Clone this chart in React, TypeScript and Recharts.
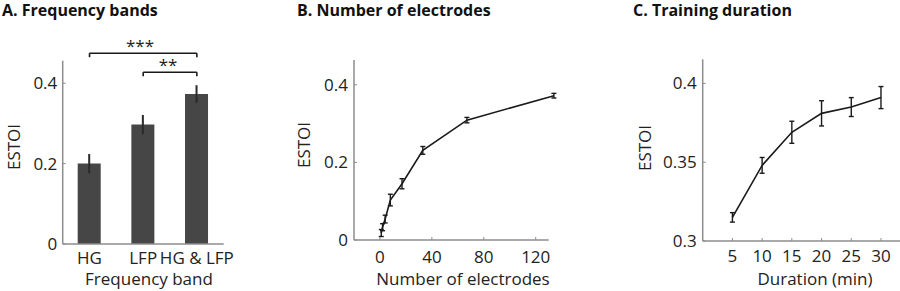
import React from 'react';
import { BarChart, Bar, LineChart, Line, XAxis, YAxis, ErrorBar, ReferenceLine } from 'recharts';

// A. frequency bands
const bands = ['HG', 'LFP', 'HG & LFP'];
const bandEstoi = [0.2, 0.297, 0.373];
const bandErr = [0.024, 0.024, 0.022];

// B. number of electrodes
const electrodes = [1, 2, 4, 8, 17, 33, 67, 134];
const electrodeEstoi = [0.018, 0.033, 0.054, 0.103, 0.145, 0.231, 0.309, 0.372];
const electrodeErr = [0.009, 0.009, 0.01, 0.015, 0.013, 0.01, 0.007, 0.006];

// C. training duration (min)
const durations = [5, 10, 15, 20, 25, 30];
const durationEstoi = [0.315, 0.348, 0.369, 0.381, 0.385, 0.391];
const durationErr = [0.003, 0.005, 0.007, 0.008, 0.006, 0.007];

const ticksA = [0, 0.2, 0.4];
const ticksB = [0, 0.2, 0.4];
const ticksBx = [0, 40, 80, 120];
const ticksC = [0.3, 0.35, 0.4];
const ticksCx = [5, 10, 15, 20, 25, 30];

// significance brackets (y in ESTOI units)
const sigOuter = 0.4747;
const sigInner = 0.4274;
const sigDrop = 0.01;

const FONT = '"Open Sans", sans-serif';
const AXIS = '#8c8c8c';
const INK = '#1a1a1a';
const tickStyle = { fill: '#222', fontSize: 17, fontFamily: FONT };

const dataA = bands.map((b, i) => ({ band: b, estoi: bandEstoi[i], err: bandErr[i] }));
const dataB = electrodes.map((n, i) => ({ n, estoi: electrodeEstoi[i], err: electrodeErr[i] }));
const dataC = durations.map((d, i) => ({ d, estoi: durationEstoi[i], err: durationErr[i] }));

function Labels() {
  const t = { fontFamily: FONT, fontSize: 17, fill: '#222' };
  const title = { fontFamily: FONT, fontSize: 16, fontWeight: 700, fill: '#111' };
  const ylab = (x: number, y: number) => (
    <text transform={`translate(${x},${y}) rotate(-90)`} textAnchor="middle" dominantBaseline="central" style={t}>
      ESTOI
    </text>
  );
  return (
    <svg width={900} height={291} style={{ position: 'absolute', left: 0, top: 0, pointerEvents: 'none' }}>
      <text x={2} y={16} style={title}>A. Frequency bands</text>
      <text x={297} y={16} style={title}>B. Number of electrodes</text>
      <text x={633} y={16} style={title}>C. Training duration</text>
      <text x={149} y={285} textAnchor="middle" style={t}>Frequency band</text>
      <text x={463} y={285} textAnchor="middle" style={t}>Number of electrodes</text>
      <text x={815} y={285} textAnchor="middle" style={t}>Duration (min)</text>
      {ylab(13, 147)}
      {ylab(303, 145)}
      {ylab(644, 148)}
      <text x={140} y={52} textAnchor="middle" style={t}>***</text>
      <text x={168} y={71} textAnchor="middle" style={t}>**</text>
    </svg>
  );
}

export default function App() {
  return (
    <div style={{ position: 'absolute', left: 0, top: 0, width: 900, height: 291, overflow: 'hidden', background: '#fff' }}>
      <div style={{ position: 'absolute', left: 0, top: 0 }}>
        <BarChart width={240} height={291} data={dataA} margin={{ top: 60.7, right: 16.3, bottom: 46, left: 61.7 }}>
          <XAxis dataKey="band" height={1} interval={0} tickLine={false} tickSize={0} tickMargin={8}
            axisLine={{ stroke: AXIS, strokeWidth: 1.5 }} tick={tickStyle} />
          <YAxis width={1} domain={[0, 0.456]} ticks={ticksA} tickSize={-3} tickMargin={8.4}
            axisLine={{ stroke: AXIS, strokeWidth: 1.5 }} tickLine={{ stroke: AXIS }} tick={tickStyle} />
          <Bar dataKey="estoi" fill="#464646" barSize={23} isAnimationActive={false}>
            <ErrorBar dataKey="err" direction="y" width={0} stroke="#2a2a2a" strokeWidth={2} />
          </Bar>
          <ReferenceLine ifOverflow="visible" stroke={INK} strokeWidth={1.6}
            segment={[{ x: 'HG', y: sigOuter }, { x: 'HG & LFP', y: sigOuter }]} />
          <ReferenceLine ifOverflow="visible" stroke={INK} strokeWidth={1.6}
            segment={[{ x: 'HG', y: sigOuter }, { x: 'HG', y: sigOuter - sigDrop }]} />
          <ReferenceLine ifOverflow="visible" stroke={INK} strokeWidth={1.6}
            segment={[{ x: 'HG & LFP', y: sigOuter }, { x: 'HG & LFP', y: sigOuter - sigDrop }]} />
          <ReferenceLine ifOverflow="visible" stroke={INK} strokeWidth={1.6}
            segment={[{ x: 'LFP', y: sigInner }, { x: 'HG & LFP', y: sigInner }]} />
          <ReferenceLine ifOverflow="visible" stroke={INK} strokeWidth={1.6}
            segment={[{ x: 'LFP', y: sigInner }, { x: 'LFP', y: sigInner - sigDrop }]} />
          <ReferenceLine ifOverflow="visible" stroke={INK} strokeWidth={1.6}
            segment={[{ x: 'HG & LFP', y: sigInner }, { x: 'HG & LFP', y: sigInner - sigDrop }]} />
        </BarChart>
      </div>

      <div style={{ position: 'absolute', left: 290, top: 0 }}>
        <LineChart width={300} height={291} data={dataB} margin={{ top: 60, right: 33.5, bottom: 50, left: 63 }}>
          <XAxis dataKey="n" type="number" domain={[-20, 136]} ticks={ticksBx} height={1} interval={0}
            axisLine={false} tickSize={-3} tickMargin={14} tickLine={{ stroke: AXIS }} tick={tickStyle} />
          <YAxis width={1} domain={[0, 0.464]} ticks={ticksB} tickSize={-3} tickMargin={9}
            axisLine={{ stroke: AXIS, strokeWidth: 1.5 }} tickLine={{ stroke: AXIS }} tick={tickStyle} />
          <ReferenceLine ifOverflow="visible" stroke={AXIS} strokeWidth={1.5}
            segment={[{ x: -20, y: 0 }, { x: 130, y: 0 }]} />
          <Line dataKey="estoi" type="linear" stroke={INK} strokeWidth={1.6} dot={false} isAnimationActive={false}>
            <ErrorBar dataKey="err" direction="y" width={2.5} stroke={INK} strokeWidth={1.4} />
          </Line>
        </LineChart>
      </div>

      <div style={{ position: 'absolute', left: 600, top: 0 }}>
        <LineChart width={300} height={291} data={dataC} margin={{ top: 59.3, right: 0, bottom: 49, left: 101.7 }}>
          <XAxis dataKey="d" type="number" domain={[0, 33.2]} ticks={ticksCx} height={1} interval={0}
            axisLine={{ stroke: AXIS, strokeWidth: 1.5 }} tickSize={-3} tickMargin={12} tickLine={{ stroke: AXIS }} tick={tickStyle} />
          <YAxis width={1} domain={[0.3, 0.4153]} ticks={ticksC} tickSize={-3} tickMargin={9}
            axisLine={{ stroke: AXIS, strokeWidth: 1.5 }} tickLine={{ stroke: AXIS }} tick={tickStyle} />
          <Line dataKey="estoi" type="linear" stroke={INK} strokeWidth={1.6} dot={false} isAnimationActive={false}>
            <ErrorBar dataKey="err" direction="y" width={2.5} stroke={INK} strokeWidth={1.4} />
          </Line>
        </LineChart>
      </div>

      <Labels />
    </div>
  );
}
